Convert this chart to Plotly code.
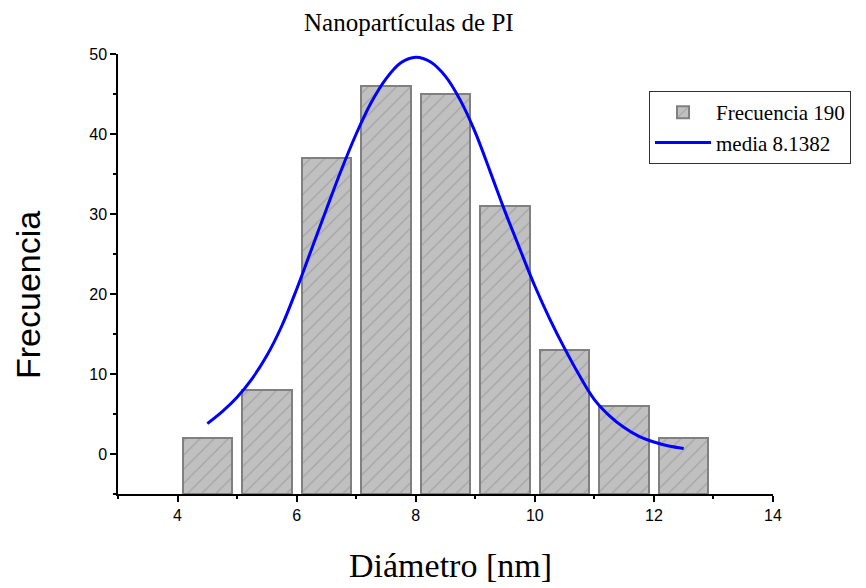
import plotly.graph_objects as go

# Histogram data
bin_centers = [4.5, 5.5, 6.5, 7.5, 8.5, 9.5, 10.5, 11.5, 12.5]
frecuencia = [2, 8, 37, 46, 45, 31, 13, 6, 2]

# Fitted curve
curve_x = [4.5, 4.75, 5.0, 5.25, 5.5, 5.75, 6.0, 6.25, 6.5, 6.75, 7.0, 7.25, 7.5, 7.75,
           8.0, 8.25, 8.5, 8.75, 9.0, 9.25, 9.5, 9.75, 10.0, 10.25, 10.5, 10.75, 11.0,
           11.25, 11.5, 11.75, 12.0, 12.25, 12.5]
curve_y = [3.8, 5.3, 7.1, 9.4, 12.3, 16.0, 20.6, 25.6, 30.6, 35.5, 40.0, 43.9, 46.9, 48.9,
           49.6, 49.0, 47.2, 44.2, 40.2, 35.3, 30.3, 25.6, 21.0, 16.9, 13.2, 9.8, 6.8,
           4.8, 3.3, 2.2, 1.5, 1.0, 0.7]

x_range = [3, 14]
y_range = [-5, 50]
BASE = y_range[0]

# page offset of the plot div (default body margin)
OFF = 8
W, H = 866 - OFF, 588 - OFF
PL, PR, PT, PB = 118, 773, 54, 494  # plot area in page pixels

def px_x(p):
    return (p - PL) / (PR - PL)

def px_y(p):
    return (PB - p) / (PB - PT)

fig = go.Figure()
fig.add_trace(go.Bar(
    x=bin_centers, y=[v - BASE for v in frecuencia], base=BASE, width=0.83,
    name="Frecuencia 190",
    marker=dict(color="#c0c0c0",
                line=dict(color="#808080", width=2),
                pattern=dict(shape="/", fgcolor="#858585", bgcolor="#c0c0c0", size=10, solidity=0.12)),
))
fig.add_trace(go.Scatter(
    x=curve_x, y=curve_y, mode="lines", name="media 8.1382",
    line=dict(color="#0000ff", width=3, shape="spline"),
))

fig.update_layout(
    width=W, height=H,
    margin=dict(l=PL - OFF, r=OFF + W - PR, t=PT - OFF, b=OFF + H - PB, pad=0, autoexpand=False),
    plot_bgcolor="white", paper_bgcolor="white",
    showlegend=True,
    bargap=0,
    legend=dict(x=px_x(649), y=px_y(91), xanchor="left", yanchor="top",
                bordercolor="#333333", borderwidth=1, bgcolor="white",
                font=dict(family="Liberation Serif", size=21, color="black"),
                tracegroupgap=0, itemwidth=56),
    xaxis=dict(range=x_range, showgrid=False, zeroline=False, showline=True,
               linecolor="black", linewidth=1.5, ticks="outside", ticklen=6,
               tickwidth=1.5, tickcolor="black", tick0=0, dtick=2,
               tickfont=dict(family="Liberation Sans", size=16, color="black"),
               minor=dict(ticks="outside", ticklen=3, tickwidth=1.5, tickcolor="black", dtick=1, tick0=0)),
    yaxis=dict(range=y_range, showgrid=False, zeroline=False, showline=True,
               linecolor="black", linewidth=1.5, ticks="outside", ticklen=6,
               tickwidth=1.5, tickcolor="black", tick0=0, dtick=10,
               tickfont=dict(family="Liberation Sans", size=16, color="black"),
               minor=dict(ticks="outside", ticklen=3, tickwidth=1.5, tickcolor="black", dtick=5, tick0=0)),
    annotations=[
        dict(text="Nanopartículas de PI", xref="paper", yref="paper",
             x=px_x(409), y=px_y(23), xanchor="center", yanchor="middle",
             showarrow=False, font=dict(family="Liberation Serif", size=25, color="black")),
        dict(text="Diámetro [nm]", xref="paper", yref="paper",
             x=px_x(450), y=px_y(565), xanchor="center", yanchor="middle",
             showarrow=False, font=dict(family="Liberation Serif", size=34, color="black")),
        dict(text="Frecuencia", xref="paper", yref="paper", textangle=-90,
             x=px_x(28), y=px_y(295), xanchor="center", yanchor="middle",
             showarrow=False, font=dict(family="Liberation Sans", size=34, color="black")),
    ],
)

fig.write_html("out.html", config={"displayModeBar": False})
